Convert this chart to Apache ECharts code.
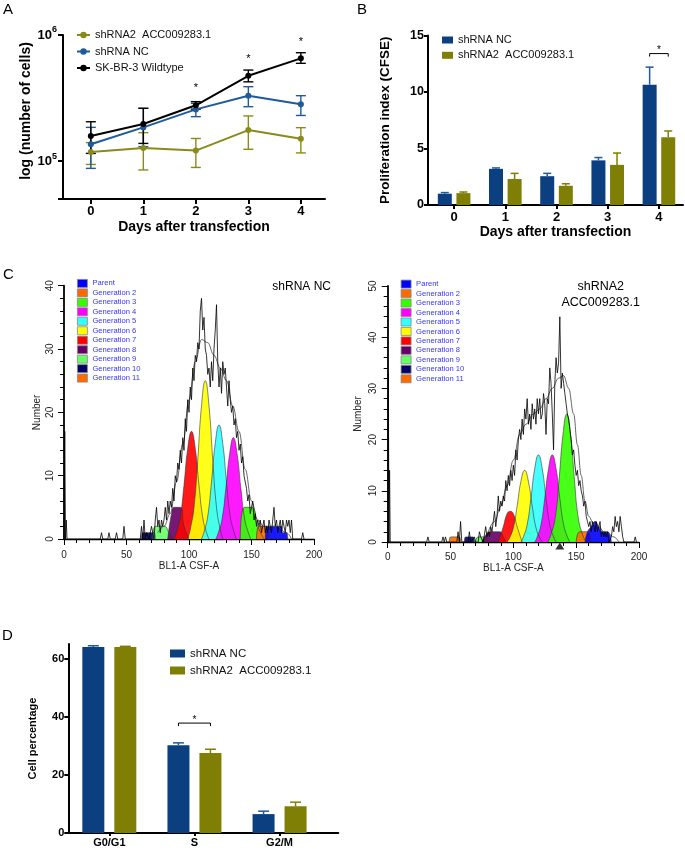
<!DOCTYPE html>
<html>
<head>
<meta charset="utf-8">
<script src="https://cdn.jsdelivr.net/npm/echarts@6.0.0/dist/echarts.min.js"></script>
<style>
html,body{margin:0;padding:0;background:#fff;}
#wrap{position:relative;width:685px;height:850px;overflow:hidden;background:#fff;}
.pane{position:absolute;left:0;top:0;width:685px;height:850px;}
</style>
</head>
<body>
<div id="wrap">
  <div class="pane" id="pA"></div>
  <div class="pane" id="pB"></div>
  <div class="pane" id="pC1"></div>
  <div class="pane" id="pC2"></div>
  <div class="pane" id="pD"></div>
</div>
<script>
// ================= DATA =================
// ---- Panel A: cell counts (log axis) ----
const aDays = [0, 1, 2, 3, 4];
const aNames = ['shRNA2  ACC009283.1', 'shRNA NC', 'SK-BR-3 Wildtype'];
const aSh2   = [118000, 127000, 121000, 176000, 150000];
const aSh2Lo = [94000, 85000, 89000, 124000, 116000];
const aSh2Hi = [140000, 168000, 151000, 228000, 184000];
const aNC    = [136000, 185000, 257000, 330000, 282000];
const aNCLo  = [87500, 130000, 225000, 270000, 230000];
const aNCHi  = [185000, 262000, 287000, 389000, 330000];
const aWT    = [158000, 197000, 277000, 475000, 653000];
const aWTLo  = [115000, 138000, 258000, 425000, 596000];
const aWTHi  = [205000, 262000, 296000, 527000, 724000];
const aStarDays = [2, 3, 4];
const aStarVals = [394000, 673000, 912000];

// ---- Panel B: proliferation index ----
const bDays = [0, 1, 2, 3, 4];
const bNames = ['shRNA NC', 'shRNA2  ACC009283.1'];
const bNC     = [1.0, 3.2, 2.55, 3.95, 10.65];
const bNCErr  = [1.1, 3.28, 2.8, 4.2, 12.2];
const bSh2    = [1.05, 2.3, 1.7, 3.55, 6.0];
const bSh2Err = [1.15, 2.8, 1.88, 4.6, 6.55];
const bSigDay = [4];
const bSigVal = [13.4];

// ---- Panel D: cell cycle ----
const dPhases = ['G0/G1', 'S', 'G2/M'];
const dIdx    = [0, 1, 2];
const dNC     = [64.0, 30.2, 6.5];
const dNCErr  = [64.4, 31.0, 7.5];
const dSh2    = [64.0, 27.5, 9.2];
const dSh2Err = [64.2, 28.8, 10.6];
const dSigIdx = [1];
const dSigVal = [37.8];
const dTicks  = [0, 20, 40, 60];

// ---- Panel C: CFSE histograms ----
const genNames = ['Parent','Generation 2','Generation 3','Generation 4','Generation 5','Generation 6',
                  'Generation 7','Generation 8','Generation 9','Generation 10','Generation 11'];
// shRNA NC generation peaks [x, count]
const ncParent = [[161,0],[162.5,2],[174,2],[175,1],[178,1],[179,0]];
const ncG2  = [[154,0],[156,2],[162,2],[164,0]];
const ncG3  = [[141,0],[144.5,5],[150,5],[155,2],[160,0]];
const ncG4  = [[121.5,0],[123.5,1],[126.5,3.2],[129.5,8],[132.5,13.4],[135.5,16],[138.5,13.4],[141.5,8],[144.5,3.2],[147.5,1],[149.5,0]];
const ncG5  = [[110,0],[112,1.1],[115,3.6],[118,9],[121,15.1],[124,18],[127,15.1],[130,9],[133,3.6],[136,1.1],[138,0]];
const ncG6  = [[99,0],[101,1.5],[104,5],[107,12.5],[110,21],[113,25],[116,21],[119,12.5],[122,5],[125,1.5],[127,0]];
const ncG7  = [[88,0],[90,1],[93,3.4],[96,8.5],[99,14.3],[102,17],[105,14.3],[108,8.5],[111,3.4],[114,1],[116,0]];
const ncG8  = [[83,0],[86,4],[88,5],[93,5],[96,2],[100,0]];
const ncG9  = [[71,0],[73,2],[80,2],[84,1],[87,0]];
const ncG10 = [[62,0],[63,1],[72,1],[73,0]];
const ncG11 = [];
const ncRaw = [[0,0],[0.6,17],[1.2,0],[1.8,3],[2.4,0],[29,0],[30,1],[31,0],[35,0],[36,1],[37,0],[41,0],[42,1],[43,0],
  [47,0],[48,2],[49,0],[61,0],[62,2],[63,0],[64,3],[65,0],[66,1],[68,0],[70,2],[71,1],[72,0],[73,3],[74,5],[75,2],
  [76,3],[77,1],[78,3],[79,2],[80,3],[81,5],[82,3],[83,6],[84,4],[85,6],[86,5],[87,8],[88,6],[89,10],[90,9],[91,12],
  [92,11],[93,14],[94,12],[95,16],[96,14],[97,19],[98,17],[99,22],[100,20],[101,24],[102,22],[103,27],[104,25],
  [105,29],[106,28],[107,31],[108,30],[109,36],[110,38],[111,33],[112,35],[113,30],[114,29],[115,26],[116,27],
  [117,24],[118,28],[119,25],[120,30],[121,33],[122,37],[123,28],[124,24],[125,27],[126,23],[127,28],[128,26],
  [129,27],[130,24],[131,21],[132,25],[133,22],[134,20],[135,21],[136,18],[137,19],[138,16],[139,17],[140,14],
  [141,15],[142,12],[143,13],[144,10],[145,9],[146,8],[147,6],[148,7],[149,4],[150,5],[151,6],[152,3],[153,4],
  [154,2],[155,3],[156,2],[157,3],[158,1],[159,2],[160,3],[161,1],[162,2],[163,1],[164,3],[165,2],[166,1],[167,3],
  [168,5],[169,2],[170,3],[171,1],[172,2],[173,3],[174,1],[175,3],[176,2],[177,1],[178,3],[179,2],[180,3],[181,1],
  [182,3],[183,0],[190,0],[191,1],[192,0]];
const ncModel = [[75,1],[80,2],[85,4],[90,9],[95,15],[100,22],[105,28],[110,31.5],[115,31],[120,29],[125,27],
  [130,25],[135,21],[140,17],[145,11],[150,6],[155,3],[160,2],[170,2],[178,1],[182,0]];

// shRNA2 ACC009283.1 generation peaks [x, count]
const shParent = [[157,0],[159,2],[162,3],[165,4],[168,3],[171,2],[175,2],[178,0]];
const shG2  = [[150,0],[153,2],[159,2],[162,0]];
const shG3  = [[127.5,0],[130,1.5],[133.5,5],[136.5,12.5],[139.5,21],[142.5,25],[145.5,21],[148.5,12.5],[151.5,5],[155,1.5],[158,0]];
const shG4  = [[117,0],[119,1],[122,3.4],[125,8.5],[128,14.3],[131,17],[134,14.3],[137,8.5],[140,3.4],[143,1],[145,0]];
const shG5  = [[106,0],[108,1],[111,3.4],[114,8.5],[117,14.3],[120,17],[123,14.3],[126,8.5],[129,3.4],[132,1],[134,0]];
const shG6  = [[95,0],[97,0.8],[100,2.8],[103,7],[106,11.8],[109,14],[112,11.8],[115,7],[118,2.8],[121,0.8],[123,0]];
const shG7  = [[88,0],[92,3],[95,5.5],[97.5,6],[100,5.5],[103,3],[107,0]];
const shG8  = [[75,0],[77,1],[82,2],[89,2],[92,1],[94,0]];
const shG9  = [[70,0],[72,1],[78,1],[80,0]];
const shG10 = [[61,0],[62,1],[68,1],[69,0]];
const shG11 = [[49,0],[50,1],[57,1],[58,0]];
const shRaw = [[0,0],[0.5,33],[1,0],[1.5,14],[2,0],[31,0],[32,1],[33,0],[43,0],[44,1],[45,0],[46,1],[47,0],[55,0],
  [56,2],[57,0],[58,4],[59,0],[64,0],[65,2],[66,0],[69,1],[70,0],[72,0],[73,2],[74,1],[76,0],[78,3],[79,1],[80,2],
  [81,1],[82,3],[83,2],[84,4],[85,6],[86,3],[87,5],[88,9],[89,6],[90,8],[91,7],[92,9],[93,8],[94,12],[95,10],
  [96,13],[97,11],[98,14],[99,12],[100,15],[101,13],[102,18],[103,16],[104,20],[105,22],[106,20],[107,24],[108,21],
  [109,26],[110,24],[111,28],[112,23],[113,25],[114,22],[115,27],[116,24],[117,26],[118,23],[119,28],[120,25],
  [121,28],[122,24],[123,25],[124,29],[125,27],[126,21],[127,28],[128,27],[129,34],[130,31],[131,25],[132,18],
  [133,31],[134,36],[135,33],[136,35],[137,44],[138,30],[139,33],[140,31],[141,29],[142,27],[143,25],[144,24],
  [145,22],[146,20],[147,17],[148,18],[149,15],[150,13],[151,14],[152,11],[153,12],[154,10],[155,9],[156,7],
  [157,8],[158,5],[159,4],[160,3],[161,4],[162,2],[163,4],[164,3],[165,2],[166,4],[167,2],[168,3],[169,4],[170,1],
  [171,2],[172,1],[173,2],[174,1],[175,2],[176,0],[178,1],[179,3],[180,2],[181,5],[182,3],[183,4],[184,2],[185,5],
  [186,3],[187,1],[188,0],[196,0],[197,1],[198,0]];
const shModel = [[80,2],[85,4],[90,7],[95,11],[100,16],[105,21],[110,23],[116,25],[121,26],[126,28],[131,30],
  [136,32],[140,32.5],[144,30],[148,25],[151,19],[154,13],[157,8],[160,5],[164,3.5],[168,3],[172,2],[176,1.5],
  [180,1],[184,0]];
const shMarkerX = [137];
const shMarkerY = [-0.8];

// ================= STYLE =================
const FONT = '"Liberation Sans", Arial, Helvetica, sans-serif';
const BLUE_BAR = '#0b3f80';
const OLIVE_BAR = '#7f7f05';
const OLIVE_L = '#8a8a1a';
const BLUE_L = '#1f5a9a';
const genColors = ['#0000ff','#ff6a00','#33ff00','#ff00ff','#33ffff','#ffff00','#ff0000','#660066','#66ff66','#000066','#ff6a00'];

function mk(id) {
  return echarts.init(document.getElementById(id), null, {renderer: 'canvas', width: 685, height: 850});
}

function errorSeries(xs, lo, hi, color, offset, capHalf, both, lw) {
  return {
    type: 'custom', silent: true, z: 3,
    data: xs.map((x, i) => [x, lo[i], hi[i]]),
    encode: {x: 0, y: [1, 2]},
    renderItem: (params, api) => {
      const p1 = api.coord([api.value(0), api.value(1)]);
      const p2 = api.coord([api.value(0), api.value(2)]);
      const x = p1[0] + offset;
      const ch = [
        {type: 'line', shape: {x1: x, y1: p1[1], x2: x, y2: p2[1]}, style: {stroke: color, lineWidth: lw}},
        {type: 'line', shape: {x1: x - capHalf, y1: p2[1], x2: x + capHalf, y2: p2[1]}, style: {stroke: color, lineWidth: lw}}
      ];
      if (both) ch.push({type: 'line', shape: {x1: x - capHalf, y1: p1[1], x2: x + capHalf, y2: p1[1]}, style: {stroke: color, lineWidth: lw}});
      return {type: 'group', children: ch};
    }
  };
}

function sigSeries(xs, ys, halfSpan, drop, fontSize, textDy) {
  return {
    type: 'custom', silent: true, z: 4,
    data: xs.map((x, i) => [x, ys[i]]),
    encode: {x: 0, y: 1},
    renderItem: (params, api) => {
      const c = api.coord([api.value(0), api.value(1)]);
      const ch = [];
      if (halfSpan > 0) {
        ch.push({type: 'polyline', shape: {points: [[c[0] - halfSpan, c[1] + drop], [c[0] - halfSpan, c[1]], [c[0] + halfSpan, c[1]], [c[0] + halfSpan, c[1] + drop]]},
                 style: {stroke: '#000', lineWidth: 1, fill: null}});
      }
      ch.push({type: 'text', x: c[0], y: c[1] + textDy,
               style: {text: '*', font: fontSize + 'px ' + FONT, fill: '#000', align: 'center', verticalAlign: 'middle', textAlign: 'center', textVerticalAlign: 'middle'}});
      return {type: 'group', children: ch};
    }
  };
}

const boldAxisLine = {onZero: false, lineStyle: {color: '#000', width: 2}};
const boldTick = (len) => ({length: len, lineStyle: {color: '#000', width: 2}});

// ================= PANEL A =================
const chA = mk('pA');
const aMeans = [aSh2, aNC, aWT], aLos = [aSh2Lo, aNCLo, aWTLo], aHis = [aSh2Hi, aNCHi, aWTHi];
const aColors = [OLIVE_L, BLUE_L, '#000'];
const aSeries = [];
for (let k = 0; k < 3; k++) aSeries.push(errorSeries(aDays, aLos[k], aHis[k], aColors[k], 0, 5, true, 1.4));
for (let k = 0; k < 3; k++) aSeries.push({
  type: 'line', name: aNames[k], data: aDays.map((d, i) => [d, aMeans[k][i]]),
  symbol: 'circle', symbolSize: 6, lineStyle: {width: 2, color: aColors[k]}, itemStyle: {color: aColors[k]}, z: 5
});
aSeries.push(sigSeries(aStarDays, aStarVals, 0, 0, 11, 2));
chA.setOption({
  animation: false,
  textStyle: {fontFamily: FONT},
  graphic: [{type: 'text', x: 3, y: 2, style: {text: 'A', font: '15px ' + FONT, fill: '#000'}}],
  legend: {left: 76, top: 29, padding: 0, orient: 'vertical', itemWidth: 13, itemHeight: 8, itemGap: 4.5, selectedMode: false,
           textStyle: {fontSize: 11, color: '#111', lineHeight: 12, fontFamily: FONT}, data: aNames},
  grid: {left: 63, top: 35, width: 262, height: 164},
  xAxis: {type: 'value', min: -0.53, max: 4.46, axisLine: boldAxisLine, axisTick: Object.assign({customValues: aDays}, boldTick(5)),
          axisLabel: {customValues: aDays, color: '#000', fontWeight: 'bold', fontSize: 13, margin: 6, fontFamily: FONT},
          splitLine: {show: false}, name: 'Days after transfection', nameLocation: 'middle', nameGap: 21,
          nameTextStyle: {fontSize: 14, fontWeight: 'bold', color: '#000', fontFamily: FONT}},
  yAxis: {type: 'log', logBase: 10, min: 50000, max: 1000000, axisLine: {show: true, onZero: false, lineStyle: {color: '#000', width: 2}},
          axisTick: boldTick(5), splitLine: {show: false},
          axisLabel: {color: '#000', fontWeight: 'bold', fontSize: 13, margin: 6, fontFamily: FONT,
            formatter: (v) => { const l = Math.log10(v); const r = Math.round(l); return Math.abs(l - r) < 1e-6 ? '10{s|' + r + '}' : ''; },
            rich: {s: {fontSize: 9, fontWeight: 'bold', color: '#000', padding: [0, 0, 10, 0], fontFamily: FONT}}},
          name: 'log (number of cells)', nameLocation: 'middle', nameGap: 28,
          nameTextStyle: {fontSize: 14, fontWeight: 'bold', color: '#000', fontFamily: FONT, padding: [0, 0, 0, 12]}},
  series: aSeries
});

// ================= PANEL B =================
const chB = mk('pB');
const bBW = 14, bGap = 4.6, bOff = (bBW + bGap) / 2;
chB.setOption({
  animation: false,
  textStyle: {fontFamily: FONT},
  graphic: [{type: 'text', x: 357, y: 2, style: {text: 'B', font: '15px ' + FONT, fill: '#000'}}],
  legend: {left: 442, top: 34, padding: 0, orient: 'vertical', icon: 'rect', itemWidth: 11, itemHeight: 7, itemGap: 3.3, selectedMode: false,
           textStyle: {fontSize: 11, color: '#111', lineHeight: 12, fontFamily: FONT},
           data: [{name: bNames[0], itemStyle: {color: BLUE_BAR}}, {name: bNames[1], itemStyle: {color: OLIVE_BAR}}]},
  grid: {left: 428, top: 35.5, width: 255, height: 169.5},
  xAxis: {type: 'value', min: -0.51, max: 4.47, axisLine: boldAxisLine, axisTick: Object.assign({customValues: bDays}, boldTick(4)),
          axisLabel: {customValues: bDays, color: '#000', fontWeight: 'bold', fontSize: 13, margin: 6, fontFamily: FONT},
          splitLine: {show: false}, name: 'Days after transfection', nameLocation: 'middle', nameGap: 16,
          nameTextStyle: {fontSize: 14, fontWeight: 'bold', color: '#000', fontFamily: FONT}},
  yAxis: {type: 'value', min: 0, max: 15, interval: 5, axisLine: {show: true, onZero: false, lineStyle: {color: '#000', width: 2}},
          axisTick: boldTick(4), splitLine: {show: false},
          axisLabel: {color: '#000', fontWeight: 'bold', fontSize: 12.5, margin: 4, fontFamily: FONT},
          name: 'Proliferation index (CFSE)', nameLocation: 'middle', nameGap: 36,
          nameTextStyle: {fontSize: 13.5, fontWeight: 'bold', color: '#000', fontFamily: FONT}},
  series: [
    errorSeries(bDays, bNC, bNCErr, BLUE_L, -bOff, 4, false, 1.5),
    errorSeries(bDays, bSh2, bSh2Err, OLIVE_BAR, bOff, 4, false, 1.5),
    {type: 'bar', name: bNames[0], data: bDays.map((d, i) => [d, bNC[i]]), barWidth: bBW, barGap: (bGap / bBW * 100) + '%', itemStyle: {color: BLUE_BAR}},
    {type: 'bar', name: bNames[1], data: bDays.map((d, i) => [d, bSh2[i]]), barWidth: bBW, barGap: (bGap / bBW * 100) + '%', itemStyle: {color: OLIVE_BAR}},
    sigSeries(bSigDay, bSigVal, bOff, 3, 10, -3)
  ]
});

// ================= PANEL C =================
const ncPeaks = [ncParent, ncG2, ncG3, ncG4, ncG5, ncG6, ncG7, ncG8, ncG9, ncG10, ncG11];
const shPeaks = [shParent, shG2, shG3, shG4, shG5, shG6, shG7, shG8, shG9, shG10, shG11];

function histOption(cfg) {
  const series = [];
  for (let i = cfg.peaks.length - 1; i >= 0; i--) {
    series.push({
      type: 'line', name: genNames[i], data: cfg.peaks[i], symbol: 'none', smooth: 0.5,
      lineStyle: {color: '#333', width: 0.6}, itemStyle: {color: genColors[i]},
      areaStyle: {color: genColors[i], opacity: 0.9}, z: 2, silent: true
    });
  }
  series.push({type: 'line', name: 'model', data: cfg.model, symbol: 'none', smooth: 0.4, smoothMonotone: 'x',
               lineStyle: {color: '#555', width: 0.9}, z: 4, silent: true});
  series.push({type: 'line', name: 'raw', data: cfg.raw, symbol: 'none',
               lineStyle: {color: '#000', width: 0.8}, z: 5, silent: true});
  if (cfg.markerX) series.push({type: 'scatter', name: 'marker', data: cfg.markerX.map((x, i) => [x, cfg.markerY[i]]),
               symbol: 'triangle', symbolSize: [9, 7], itemStyle: {color: '#000'}, clip: false, z: 6, silent: true});
  const axisText = {fontSize: 10, color: '#222', fontFamily: FONT};
  return {
    animation: false,
    textStyle: {fontFamily: FONT},
    graphic: cfg.graphic,
    legend: {left: cfg.legLeft, top: cfg.legTop, padding: 0, orient: 'vertical', icon: 'rect', itemWidth: 10, itemHeight: 8, itemGap: 0.67,
             selectedMode: false,
             textStyle: {fontSize: 7.6, color: '#3535f0', lineHeight: 8, fontFamily: FONT},
             data: genNames.map((n, i) => ({name: n, itemStyle: {color: genColors[i], borderColor: '#888', borderWidth: 0.8}}))},
    grid: {left: cfg.left, top: cfg.top, width: cfg.w, height: cfg.h},
    xAxis: {type: 'value', min: 0, max: 200, interval: 50, axisLine: {onZero: false, lineStyle: {color: '#000', width: 1.4}},
            axisTick: {length: 6, lineStyle: {color: '#000', width: 1}},
            minorTick: {show: true, splitNumber: 5, length: 4, lineStyle: {color: '#000', width: 1}},
            axisLabel: Object.assign({margin: cfg.xLabMargin}, axisText), splitLine: {show: false},
            name: 'BL1-A CSF-A', nameLocation: 'middle', nameGap: cfg.xNameGap, nameTextStyle: axisText},
    yAxis: {type: 'value', min: 0, max: cfg.ymax, interval: 10, axisLine: {show: true, onZero: false, lineStyle: {color: '#000', width: 1.8}},
            axisTick: {show: true, length: 6, lineStyle: {color: '#000', width: 1}},
            minorTick: {show: true, splitNumber: 5, length: 4, lineStyle: {color: '#000', width: 1}},
            axisLabel: Object.assign({rotate: 90, margin: 9}, axisText), splitLine: {show: false},
            name: 'Number', nameLocation: 'middle', nameGap: cfg.yNameGap, nameTextStyle: axisText},
    series: series
  };
}

const chC1 = mk('pC1');
chC1.setOption(histOption({
  peaks: ncPeaks, raw: ncRaw, model: ncModel, ymax: 40,
  left: 64, top: 285.7, w: 250, h: 253.3, legLeft: 77, legTop: 279,
  xLabMargin: 11, xNameGap: 22, yNameGap: 22,
  graphic: [
    {type: 'text', x: 3, y: 267, style: {text: 'C', font: '15px ' + FONT, fill: '#000'}},
    {type: 'text', x: 301.7, y: 287, style: {text: 'shRNA NC', font: '12px ' + FONT, fill: '#000', align: 'center', verticalAlign: 'middle'}}
  ]
}));

const chC2 = mk('pC2');
chC2.setOption(histOption({
  peaks: shPeaks, raw: shRaw, model: shModel, ymax: 50, markerX: shMarkerX, markerY: shMarkerY,
  left: 387.7, top: 286, w: 251.3, h: 256, legLeft: 400.7, legTop: 279.7,
  xLabMargin: 10, xNameGap: 21, yNameGap: 24,
  graphic: [
    {type: 'text', x: 600.7, y: 287, style: {text: 'shRNA2', font: '12.5px ' + FONT, fill: '#000', align: 'center', verticalAlign: 'middle'}},
    {type: 'text', x: 600.7, y: 302.7, style: {text: 'ACC009283.1', font: '12.5px ' + FONT, fill: '#000', align: 'center', verticalAlign: 'middle'}}
  ]
}));

// ================= PANEL D =================
const chD = mk('pD');
const dBW = 22, dGap = 10, dOff = (dBW + dGap) / 2;
chD.setOption({
  animation: false,
  textStyle: {fontFamily: FONT},
  graphic: [{type: 'text', x: 2, y: 628, style: {text: 'D', font: '15px ' + FONT, fill: '#000'}}],
  legend: {left: 170, top: 647, padding: 0, orient: 'vertical', icon: 'rect', itemWidth: 15, itemHeight: 8, itemGap: 4, selectedMode: false,
           textStyle: {fontSize: 11.5, color: '#111', lineHeight: 13, fontFamily: FONT},
           data: [{name: bNames[0], itemStyle: {color: BLUE_BAR}}, {name: bNames[1], itemStyle: {color: OLIVE_BAR}}]},
  grid: {left: 68.3, top: 644, width: 270, height: 189},
  xAxis: {type: 'value', min: -0.482, max: 2.69, axisLine: boldAxisLine, axisTick: Object.assign({customValues: dIdx}, boldTick(3)),
          axisLabel: {customValues: dIdx, formatter: (v) => dPhases[Math.round(v)], color: '#000', fontWeight: 'bold', fontSize: 11, margin: 4, fontFamily: FONT},
          splitLine: {show: false}},
  yAxis: {type: 'value', min: 0, max: 65, axisLine: {show: true, onZero: false, lineStyle: {color: '#000', width: 2}},
          axisTick: Object.assign({customValues: dTicks}, boldTick(4)), splitLine: {show: false},
          axisLabel: {customValues: dTicks, color: '#000', fontWeight: 'bold', fontSize: 11, margin: 4, fontFamily: FONT},
          name: 'Cell percentage', nameLocation: 'middle', nameGap: 30,
          nameTextStyle: {fontSize: 11, fontWeight: 'bold', color: '#000', fontFamily: FONT}},
  series: [
    errorSeries(dIdx, dNC, dNCErr, BLUE_L, -dOff, 5.5, false, 1.5),
    errorSeries(dIdx, dSh2, dSh2Err, OLIVE_BAR, dOff, 5.5, false, 1.5),
    {type: 'bar', name: bNames[0], data: dIdx.map((d, i) => [d, dNC[i]]), barWidth: dBW, barGap: (dGap / dBW * 100) + '%', itemStyle: {color: BLUE_BAR}},
    {type: 'bar', name: bNames[1], data: dIdx.map((d, i) => [d, dSh2[i]]), barWidth: dBW, barGap: (dGap / dBW * 100) + '%', itemStyle: {color: OLIVE_BAR}},
    sigSeries(dSigIdx, dSigVal, dOff, 3, 10, -3)
  ]
});
</script>
</body>
</html>
